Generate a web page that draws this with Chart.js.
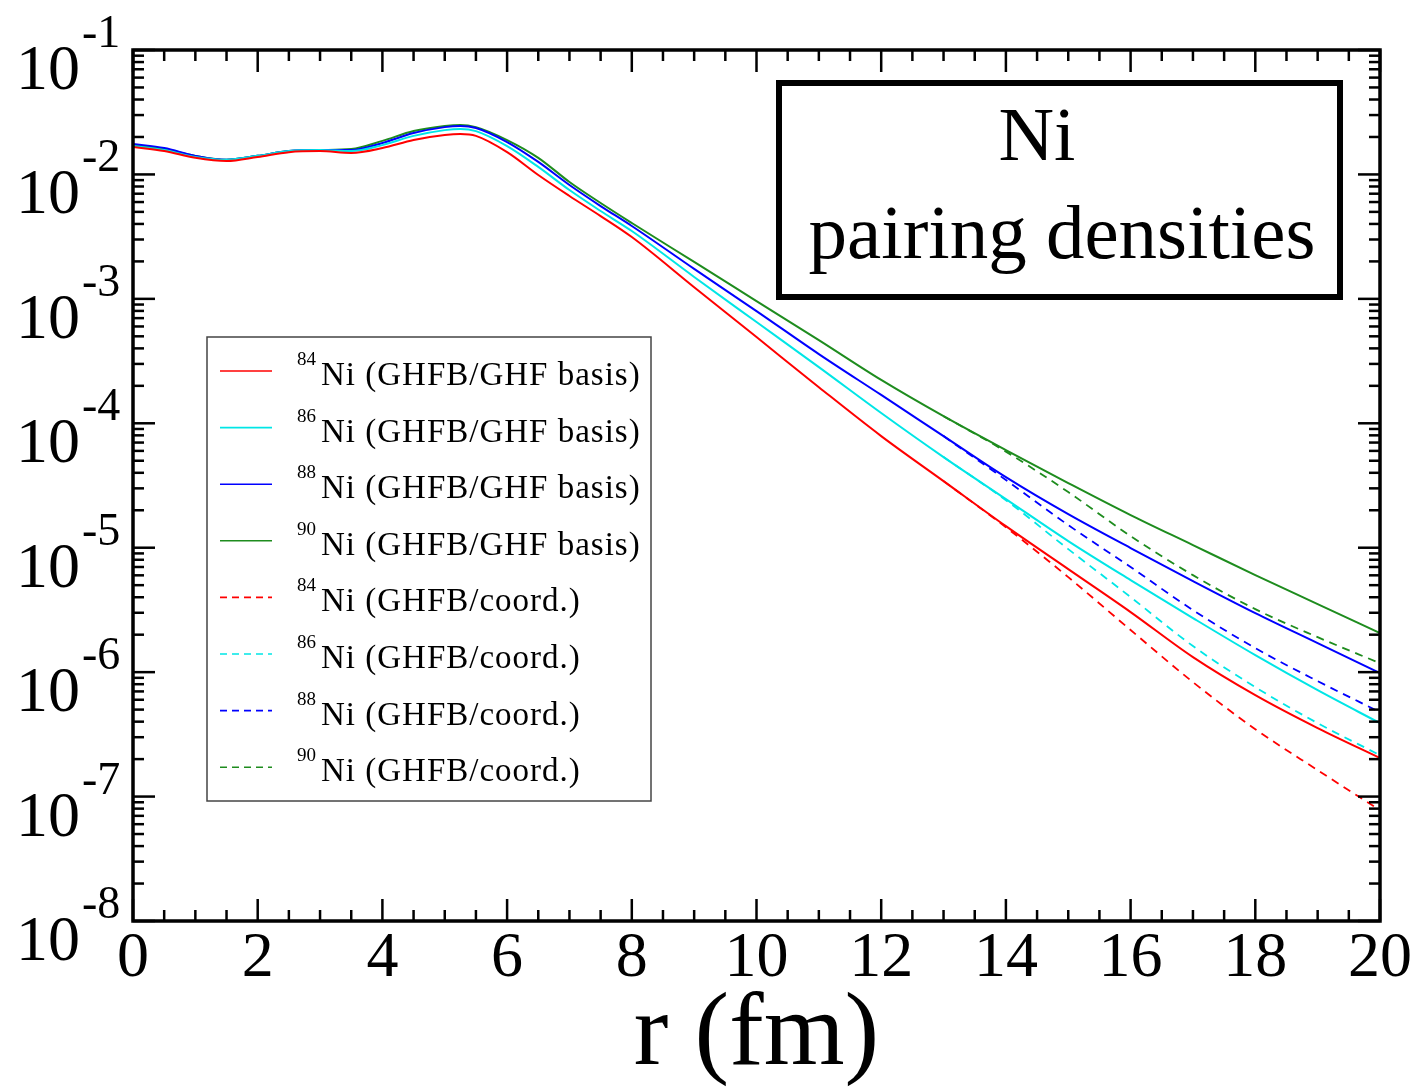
<!DOCTYPE html>
<html>
<head>
<meta charset="utf-8">
<script src="https://cdn.jsdelivr.net/npm/chart.js@4.4.0/dist/chart.umd.min.js"></script>
<style>
  html, body { margin: 0; padding: 0; background: #fff; }
  #wrap { width: 1423px; height: 1089px; }
</style>
</head>
<body>
<div id="wrap"><canvas id="pairingChart" width="1423" height="1089"></canvas></div>
<script>
// radius grid (fm) for the GHF-basis curves
const radius = [0, 0.5, 1, 1.5, 2, 2.5, 3, 3.5, 4, 4.5, 5, 5.25, 5.5, 6, 6.5, 7, 7.5, 8, 9, 10, 11, 12, 13, 14, 15, 16, 17, 18, 19, 20];

// pairing densities, GHFB / GHF basis (solid lines)
const ni84Basis = [1.66e-2, 1.54e-2, 1.36e-2, 1.28e-2, 1.38e-2, 1.51e-2, 1.54e-2, 1.49e-2, 1.63e-2, 1.89e-2, 2.07e-2, 2.11e-2, 2.04e-2, 1.51e-2, 9.89e-3, 6.71e-3, 4.63e-3, 3.14e-3, 1.24e-3, 4.93e-4, 1.95e-4, 7.89e-5, 3.43e-5, 1.49e-5, 6.73e-6, 3.04e-6, 1.32e-6, 6.53e-7, 3.55e-7, 2.04e-7];
const ni86Basis = [1.69e-2, 1.57e-2, 1.38e-2, 1.31e-2, 1.41e-2, 1.54e-2, 1.57e-2, 1.54e-2, 1.72e-2, 2.04e-2, 2.27e-2, 2.32e-2, 2.23e-2, 1.69e-2, 1.15e-2, 7.49e-3, 5.08e-3, 3.51e-3, 1.50e-3, 6.51e-4, 2.83e-4, 1.21e-4, 5.35e-5, 2.46e-5, 1.13e-5, 5.49e-6, 2.72e-6, 1.37e-6, 7.16e-7, 3.89e-7];
const ni88Basis = [1.76e-2, 1.63e-2, 1.41e-2, 1.31e-2, 1.41e-2, 1.54e-2, 1.57e-2, 1.57e-2, 1.79e-2, 2.15e-2, 2.40e-2, 2.45e-2, 2.36e-2, 1.82e-2, 1.26e-2, 8.22e-3, 5.57e-3, 3.85e-3, 1.74e-3, 7.98e-4, 3.60e-4, 1.69e-4, 7.89e-5, 3.69e-5, 1.86e-5, 9.93e-6, 5.39e-6, 2.98e-6, 1.71e-6, 9.82e-7];
const ni90Basis = [1.72e-2, 1.60e-2, 1.41e-2, 1.31e-2, 1.41e-2, 1.54e-2, 1.57e-2, 1.60e-2, 1.86e-2, 2.23e-2, 2.45e-2, 2.50e-2, 2.40e-2, 1.89e-2, 1.36e-2, 8.69e-3, 5.89e-3, 4.07e-3, 1.98e-3, 9.60e-4, 4.66e-4, 2.23e-4, 1.14e-4, 6.09e-5, 3.31e-5, 1.83e-5, 1.05e-5, 6.02e-6, 3.52e-6, 2.06e-6];

// coordinate-space curves only split off from the basis ones in the tail
const radiusTail = [13, 14, 15, 16, 17, 18, 19, 20];
const ni84Coord = [3.43e-5, 1.46e-5, 5.80e-6, 2.18e-6, 8.31e-7, 3.48e-7, 1.63e-7, 7.77e-8];
const ni86Coord = [5.35e-5, 2.41e-5, 9.74e-6, 4.01e-6, 1.62e-6, 7.58e-7, 3.89e-7, 2.15e-7];
const ni88Coord = [7.89e-5, 3.50e-5, 1.52e-5, 6.99e-6, 3.15e-6, 1.56e-6, 8.47e-7, 4.77e-7];
const ni90Coord = [1.14e-4, 5.92e-5, 2.80e-5, 1.24e-5, 6.02e-6, 3.21e-6, 1.91e-6, 1.18e-6];

const isotopes = ['84', '86', '88', '90'];
const methodLabels = ['(GHFB/GHF basis)', '(GHFB/coord.)'];
const yExponents = [-1, -2, -3, -4, -5, -6, -7, -8];
const boxLines = ['Ni', 'pairing densities'];

const serif = '"Liberation Serif", "Times New Roman", serif';
const lineColors = ['#ff0000', '#00e6e6', '#0000ff', '#1e8c1e'];

const datasets = [];
[ni84Basis, ni86Basis, ni88Basis, ni90Basis].forEach((vals, i) => {
  datasets.push({
    label: isotopes[i] + 'Ni ' + methodLabels[0],
    mass: isotopes[i],
    text: 'Ni ' + methodLabels[0],
    data: radius.map((r, k) => ({ x: r, y: vals[k] })),
    borderColor: lineColors[i],
    borderWidth: 2,
    pointRadius: 0,
    cubicInterpolationMode: 'monotone',
    fill: false
  });
});
[ni84Coord, ni86Coord, ni88Coord, ni90Coord].forEach((vals, i) => {
  datasets.push({
    label: isotopes[i] + 'Ni ' + methodLabels[1],
    mass: isotopes[i],
    text: 'Ni ' + methodLabels[1],
    data: radiusTail.map((r, k) => ({ x: r, y: vals[k] })),
    borderColor: lineColors[i],
    borderWidth: 1.8,
    borderDash: [8, 6],
    pointRadius: 0,
    cubicInterpolationMode: 'monotone',
    fill: false
  });
});

// grace-style frame: inward ticks on all four sides, labels, legend and text box
const decor = {
  id: 'decor',
  afterDatasetsDraw(chart) {
    const c = chart.ctx;
    const { left, right, top, bottom } = chart.chartArea;
    const xs = chart.scales.x, ys = chart.scales.y;
    c.save();
    c.strokeStyle = '#000';
    c.lineWidth = 2.5;
    const seg = (x1, y1, x2, y2) => { c.beginPath(); c.moveTo(x1, y1); c.lineTo(x2, y2); c.stroke(); };
    for (let k = 0; k <= 40; k++) {
      const px = xs.getPixelForValue(k * 0.5);
      const len = k % 4 === 0 ? 22 : 11;
      seg(px, bottom, px, bottom - len);
      seg(px, top, px, top + len);
    }
    for (let e = -8; e <= -1; e++) {
      for (let m = 1; m <= 9; m++) {
        if (e === -1 && m > 1) break;
        const py = ys.getPixelForValue(m * Math.pow(10, e));
        const len = m === 1 ? 22 : 11;
        seg(left, py, left + len, py);
        seg(right, py, right - len, py);
      }
    }
    c.lineWidth = 3.5;
    c.strokeRect(left, top, right - left, bottom - top);
    c.restore();
  },
  afterDraw(chart) {
    const c = chart.ctx;
    const ys = chart.scales.y;
    c.save();
    c.fillStyle = '#000';
    // y labels 10^n
    yExponents.forEach(e => {
      const py = ys.getPixelForValue(Math.pow(10, e));
      c.font = '64px ' + serif;
      c.textAlign = 'right';
      c.textBaseline = 'alphabetic';
      c.fillText('10', 80, py + 39);
      c.font = '46px ' + serif;
      c.textAlign = 'left';
      c.fillText('-' + Math.abs(e), 82, py - 3);
    });

    // legend
    c.lineWidth = 1.5;
    c.strokeStyle = '#444';
    c.strokeRect(207, 337, 444, 464);
    chart.data.datasets.forEach((ds, i) => {
      const ly = 371 + 56.6 * i;
      c.save();
      c.strokeStyle = ds.borderColor;
      c.lineWidth = 1.6;
      c.setLineDash(ds.borderDash ? [7, 5] : []);
      c.beginPath(); c.moveTo(220, ly); c.lineTo(272, ly); c.stroke();
      c.restore();
      c.fillStyle = '#000';
      c.textAlign = 'left';
      c.font = '19px ' + serif;
      c.fillText(ds.mass, 297, ly - 6);
      c.font = '33px ' + serif;
      if ('letterSpacing' in c) c.letterSpacing = '1px';
      c.fillText(ds.text, 321, ly + 14);
      if ('letterSpacing' in c) c.letterSpacing = '0px';
    });

    // text box
    c.lineWidth = 6;
    c.strokeStyle = '#000';
    c.strokeRect(779, 83, 561, 214);
    c.font = '77px ' + serif;
    c.textAlign = 'center';
    c.fillText(boxLines[0], 1037, 160);
    c.fillText(boxLines[1], 1062, 258);
    c.restore();
  }
};

new Chart(document.getElementById('pairingChart').getContext('2d'), {
  type: 'line',
  data: { datasets: datasets },
  options: {
    responsive: false,
    animation: false,
    layout: { padding: { top: 50, right: 43, left: 0, bottom: 0 } },
    plugins: { legend: { display: false }, tooltip: { enabled: false } },
    scales: {
      x: {
        type: 'linear',
        min: 0,
        max: 20,
        grid: { display: false, drawTicks: false },
        border: { display: false },
        ticks: { stepSize: 2, padding: 0, color: '#000', font: { family: serif, size: 64 }, maxRotation: 0 },
        title: { display: true, text: 'r (fm)', color: '#000', font: { family: serif, size: 104, lineHeight: 1 }, padding: { top: 0, bottom: 0 } },
        afterFit(scale) { scale.height = 168; }
      },
      y: {
        type: 'logarithmic',
        min: 1e-8,
        max: 1e-1,
        grid: { display: false, drawTicks: false },
        border: { display: false },
        ticks: { display: false },
        afterFit(scale) { scale.width = 133; }
      }
    }
  },
  plugins: [decor]
});
</script>
</body>
</html>
